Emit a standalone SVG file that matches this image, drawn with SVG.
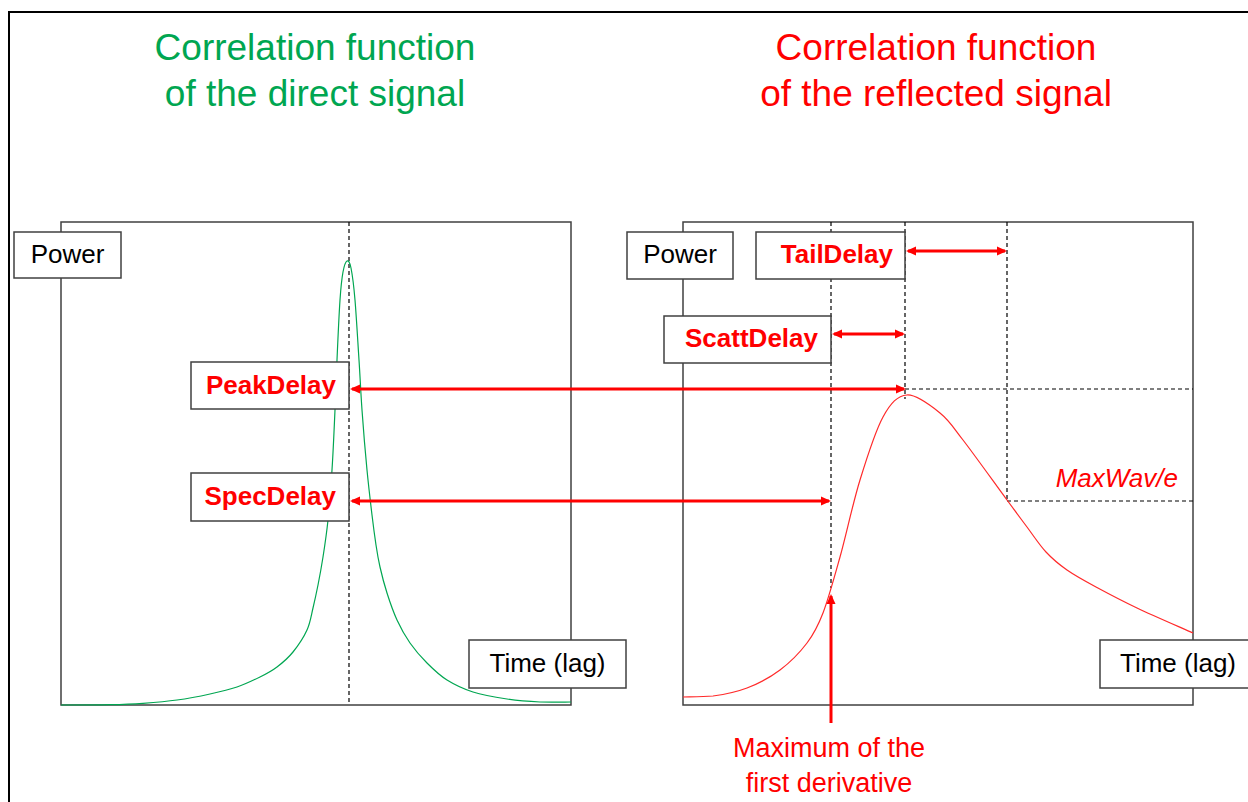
<svg xmlns="http://www.w3.org/2000/svg" width="1248" height="802" viewBox="0 0 1248 802">
<defs>
<style>
.frame{fill:none;stroke:#000;stroke-width:2}
.plot{fill:none;stroke:#404040;stroke-width:1.5}
.box{fill:#fff;stroke:#404040;stroke-width:1.5}
.dash{fill:none;stroke:#000;stroke-width:1.2;stroke-dasharray:4 3}
.arrow{fill:none;stroke:#ff0000;stroke-width:3}
.t{font-family:"Liberation Sans",Arial,sans-serif;font-size:26px;fill:#000}
.tb{font-family:"Liberation Sans",Arial,sans-serif;font-size:26px;font-weight:bold;fill:#ff0000}
.title{font-family:"Liberation Sans",Arial,sans-serif;font-size:37px;text-anchor:middle}
.green{fill:#00a651}
.red{fill:#ff0000}
</style>
<marker id="ah" markerUnits="userSpaceOnUse" markerWidth="12" markerHeight="10" refX="8" refY="5" orient="auto-start-reverse">
<path d="M0,0.5 L10,5 L0,9.5 z" fill="#ff0000"/>
</marker>
</defs>
<rect width="1248" height="802" fill="#fff"/>
<path class="frame" d="M9,802 V12 H1248"/>

<g id="title-direct">
<text class="title green" x="315" y="60">Correlation function</text>
<text class="title green" x="315" y="106">of the direct signal</text>
</g>
<g id="title-reflected">
<text class="title red" x="936" y="60">Correlation function</text>
<text class="title red" x="936" y="106">of the reflected signal</text>
</g>

<g id="plot-direct">
<rect class="plot" x="61" y="222" width="510" height="483"/>
</g>
<g id="plot-reflected">
<rect class="plot" x="683" y="222" width="510" height="483"/>
</g>

<g id="guides">
<line class="dash" x1="349" y1="222" x2="349" y2="705"/>
<line class="dash" x1="831" y1="222" x2="831" y2="588"/>
<line class="dash" x1="905" y1="222" x2="905" y2="399"/>
<line class="dash" x1="1007" y1="222" x2="1007" y2="501"/>
<line class="dash" x1="905" y1="389" x2="1193" y2="389"/>
<line class="dash" x1="1007" y1="501" x2="1193" y2="501"/>
</g>

<g id="curve-direct">
<path fill="none" stroke="#00a651" stroke-width="1.2" d="M61,705 C69.2,705 96.3,705 110,704.7 C123.7,704.4 131.8,704.1 143,703.3 C154.2,702.5 165.8,701.6 177,700 C188.2,698.5 200,696.2 210,694 C220,691.8 228.7,689.8 237,687 C245.3,684.2 253.3,680.3 260,677 C266.7,673.7 271.5,671.2 277,667 C282.5,662.8 288,658.2 293,652 C298,645.8 303.7,637.3 307,630 C310.3,622.7 311.2,615.5 313,608 C314.8,600.5 316.3,593.5 318,585 C319.7,576.5 321.3,567.8 323,557 C324.7,546.2 326.5,534.5 328,520 C329.5,505.5 330.8,488.3 332,470 C333.2,451.7 334.2,428.3 335,410 C335.8,391.7 336.2,378.3 337,360 C337.8,341.7 339,314.7 340,300 C341,285.3 341.8,278.5 343,272 C344.2,265.5 345.7,261.7 347,261 C348.3,260.3 349.7,261.5 351,268 C352.3,274.5 353.7,284.7 355,300 C356.3,315.3 357.8,341.7 359,360 C360.2,378.3 360.7,391.7 362,410 C363.3,428.3 365.3,452.5 367,470 C368.7,487.5 370.5,502.5 372,515 C373.5,527.5 374.7,536.3 376,545 C377.3,553.7 378.2,559 380,567 C381.8,575 384.2,584.2 387,593 C389.8,601.8 393.2,611.7 397,620 C400.8,628.3 405,635.8 410,643 C415,650.2 420.8,656.8 427,663 C433.2,669.2 439.3,675.2 447,680 C454.7,684.8 463,688.8 473,692 C483,695.2 495.8,697.3 507,699 C518.2,700.7 529.3,701.5 540,702 C550.7,702.3 565.8,702 571,702"/>
</g>

<g id="curve-reflected">
<path fill="none" stroke="#ff2a2a" stroke-width="1.2" d="M683,697 C688,696.8 702.3,697 713,696 C723.7,694.5 735.8,692.3 747,688 C758.2,683.7 770,677.5 780,670 C790,662.5 799.8,652.5 807,643 C814.2,633.5 817.5,627.3 823,613 C828.5,598.7 833.8,579.2 840,557 C846.2,534.8 852.8,503.3 860,480 C867.2,456.7 875.2,431.2 883,417 C890.8,402.8 897.5,395.7 907,395 C916.5,394.3 930.7,405.5 940,413 C949.3,420.5 951.8,425.5 963,440 C974.2,454.5 996.3,485.5 1007,500 C1017.7,514.5 1020.5,518.3 1027,527 C1033.5,535.7 1039.3,544.8 1046,552 C1052.7,559.2 1058.7,564.2 1067,570 C1075.3,575.8 1084.3,580.7 1096,587 C1107.7,593.3 1120.8,600.3 1137,608 C1153.2,615.7 1183.7,628.8 1193,633"/>
</g>

<g id="connectors">
<line class="arrow" x1="352" y1="389" x2="904" y2="389" marker-start="url(#ah)" marker-end="url(#ah)"/>
<line class="arrow" x1="352" y1="501" x2="829" y2="501" marker-start="url(#ah)" marker-end="url(#ah)"/>
<line class="arrow" x1="834" y1="334" x2="903" y2="334" marker-start="url(#ah)" marker-end="url(#ah)"/>
<line class="arrow" x1="908" y1="251" x2="1005" y2="251" marker-start="url(#ah)" marker-end="url(#ah)"/>
<line class="arrow" x1="831" y1="723" x2="831" y2="596" marker-end="url(#ah)"/>
</g>

<g id="power-direct">
<rect class="box" x="14" y="232" width="107" height="46"/>
<text class="t" x="67.5" y="263" text-anchor="middle">Power</text>
</g>
<g id="time-direct">
<rect class="box" x="469" y="640" width="157" height="48"/>
<text class="t" x="547.5" y="672" text-anchor="middle">Time (lag)</text>
</g>
<g id="peakdelay">
<rect class="box" x="191" y="362" width="158" height="47"/>
<text class="tb" x="336" y="394" text-anchor="end">PeakDelay</text>
</g>
<g id="specdelay">
<rect class="box" x="191" y="473" width="158" height="48"/>
<text class="tb" x="336" y="505" text-anchor="end">SpecDelay</text>
</g>
<g id="power-reflected">
<rect class="box" x="627" y="232" width="106" height="47"/>
<text class="t" x="680" y="263" text-anchor="middle">Power</text>
</g>
<g id="taildelay">
<rect class="box" x="756" y="232" width="149" height="47"/>
<text class="tb" x="893" y="263" text-anchor="end">TailDelay</text>
</g>
<g id="scattdelay">
<rect class="box" x="664" y="316" width="167" height="47"/>
<text class="tb" x="818" y="347" text-anchor="end">ScattDelay</text>
</g>
<g id="time-reflected">
<rect class="box" x="1100" y="640" width="152" height="48"/>
<text class="t" x="1178" y="672" text-anchor="middle">Time (lag)</text>
</g>
<g id="maxwav">
<text x="1178" y="487" text-anchor="end" font-family="Liberation Sans, Arial, sans-serif" font-size="26" font-style="italic" fill="#ff0000">MaxWav/e</text>
</g>
<g id="max-derivative">
<text x="829" y="757" text-anchor="middle" font-family="Liberation Sans, Arial, sans-serif" font-size="27" fill="#ff0000">Maximum of the</text>
<text x="829" y="792" text-anchor="middle" font-family="Liberation Sans, Arial, sans-serif" font-size="27" fill="#ff0000">first derivative</text>
</g>
</svg>
